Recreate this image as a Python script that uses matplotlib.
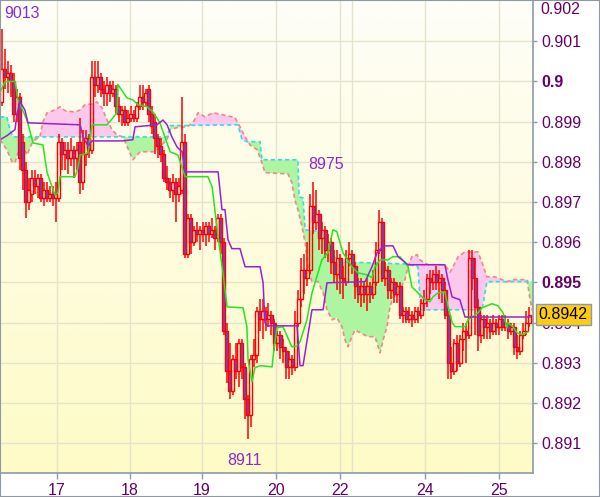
import numpy as np
import matplotlib.pyplot as plt
from matplotlib.patches import Rectangle
from matplotlib.colors import LinearSegmentedColormap
from matplotlib.transforms import blended_transform_factory

plt.rcParams['font.family'] = ['Liberation Sans', 'DejaVu Sans']

# hourly candles, prices in pips (x 0.0001)
opens = [
    8995, 9003, 9001, 9002, 9000, 8992, 8996, 8985, 8978, 8970,
    8972, 8976, 8974, 8976, 8971, 8973, 8971, 8972, 8971, 8971,
    8985, 8982, 8983, 8981, 8983, 8981, 8985, 8975, 8982, 8986,
    8983, 9001, 8999, 9001, 8998, 8997, 8999, 8997, 8998, 8994,
    8992, 8993, 8990, 8991, 8992, 8991, 8994, 8996, 8995, 8998,
    8992, 8990, 8986, 8984, 8982, 8976, 8975, 8973, 8975, 8972,
    8973, 8985, 8957, 8966, 8960, 8963, 8962, 8963, 8962, 8964,
    8962, 8963, 8961, 8966, 8960, 8938, 8928, 8923, 8931, 8928,
    8935, 8929, 8921, 8917, 8931, 8932, 8943, 8941, 8943, 8941,
    8942, 8940, 8935, 8937, 8934, 8933, 8929, 8931, 8929, 8940,
    8946, 8953, 8951, 8953, 8969, 8965, 8967, 8961, 8963, 8958,
    8960, 8955, 8952, 8956, 8951, 8950, 8956, 8957, 8954, 8949,
    8947, 8949, 8947, 8949, 8947, 8950, 8958, 8965, 8951, 8953,
    8948, 8950, 8947, 8949, 8942, 8943, 8941, 8942, 8941, 8943,
    8942, 8945, 8946, 8951, 8950, 8952, 8950, 8951, 8948, 8942,
    8930, 8928, 8935, 8930, 8936, 8938, 8937, 8956, 8951, 8944,
    8937, 8941, 8939, 8940, 8938, 8940, 8939, 8941, 8939, 8940,
    8938, 8939, 8934, 8933, 8937, 8938, 8940]
closes = [
    9003, 9001, 9002, 9000, 8992, 8996, 8981, 8978, 8970, 8973,
    8976, 8974, 8976, 8971, 8973, 8971, 8972, 8971, 8972, 8985,
    8982, 8983, 8981, 8983, 8981, 8983, 8975, 8982, 8986, 8983,
    9001, 8999, 9001, 8998, 8997, 8999, 8997, 8998, 8994, 8992,
    8993, 8990, 8991, 8992, 8991, 8994, 8996, 8995, 8997, 8992,
    8989, 8986, 8984, 8982, 8976, 8975, 8973, 8975, 8972, 8974,
    8985, 8957, 8966, 8960, 8963, 8962, 8963, 8962, 8964, 8962,
    8963, 8961, 8966, 8960, 8938, 8928, 8923, 8931, 8928, 8935,
    8929, 8921, 8917, 8931, 8932, 8943, 8941, 8943, 8941, 8942,
    8940, 8935, 8937, 8934, 8933, 8929, 8931, 8929, 8940, 8946,
    8953, 8951, 8953, 8969, 8965, 8967, 8961, 8963, 8958, 8960,
    8955, 8952, 8956, 8951, 8950, 8956, 8957, 8954, 8949, 8947,
    8949, 8947, 8949, 8947, 8950, 8958, 8965, 8951, 8953, 8948,
    8950, 8947, 8949, 8942, 8943, 8941, 8942, 8941, 8943, 8942,
    8945, 8946, 8951, 8950, 8952, 8950, 8951, 8948, 8942, 8930,
    8928, 8935, 8930, 8936, 8938, 8937, 8956, 8951, 8944, 8937,
    8941, 8939, 8940, 8938, 8940, 8939, 8941, 8939, 8940, 8938,
    8939, 8934, 8933, 8937, 8938, 8940, 8942]
highs = [
    9013, 9008, 9005, 9004, 9002, 8998, 8997, 8987, 8980, 8976,
    8978, 8978, 8977, 8977, 8975, 8975, 8974, 8974, 8975, 8987,
    8986, 8985, 8985, 8986, 8984, 8985, 8991, 8988, 8988, 8987,
    9005, 9005, 9005, 9002, 9000, 9001, 9000, 9000, 8999, 8996,
    8994, 8994, 8993, 8994, 8993, 8995, 8999, 8999, 8998, 8999,
    8994, 8992, 8987, 8986, 8983, 8979, 8976, 8977, 8976, 8976,
    8996, 8987, 8967, 8967, 8964, 8965, 8964, 8965, 8965, 8965,
    8966, 8964, 8967, 8967, 8961, 8940, 8935, 8932, 8935, 8936,
    8936, 8930, 8922, 8932, 8936, 8944, 8946, 8946, 8944, 8945,
    8943, 8941, 8938, 8938, 8936, 8934, 8933, 8932, 8943, 8948,
    8956, 8957, 8960, 8972, 8975, 8973, 8968, 8965, 8964, 8962,
    8961, 8958, 8958, 8957, 8954, 8958, 8960, 8958, 8955, 8951,
    8951, 8950, 8951, 8950, 8953, 8960, 8968, 8966, 8955, 8954,
    8951, 8951, 8950, 8950, 8944, 8944, 8944, 8943, 8944, 8944,
    8946, 8948, 8952, 8953, 8953, 8954, 8953, 8952, 8950, 8943,
    8934, 8936, 8937, 8937, 8940, 8940, 8958, 8958, 8956, 8946,
    8942, 8942, 8942, 8941, 8942, 8941, 8942, 8942, 8942, 8941,
    8940, 8940, 8937, 8938, 8940, 8943, 8944]
lows = [
    8994, 8998, 8997, 8996, 8990, 8990, 8978, 8973, 8966, 8968,
    8970, 8972, 8971, 8970, 8969, 8970, 8970, 8969, 8965, 8970,
    8978, 8978, 8977, 8979, 8976, 8978, 8972, 8973, 8979, 8981,
    8982, 8996, 8997, 8996, 8994, 8994, 8995, 8996, 8992, 8990,
    8989, 8989, 8989, 8990, 8990, 8990, 8993, 8993, 8994, 8990,
    8987, 8982, 8981, 8980, 8975, 8973, 8971, 8970, 8965, 8970,
    8972, 8956, 8956, 8957, 8959, 8960, 8958, 8960, 8959, 8960,
    8961, 8958, 8960, 8957, 8937, 8925, 8921, 8922, 8926, 8924,
    8926, 8916, 8911, 8914, 8929, 8930, 8938, 8936, 8938, 8939,
    8937, 8933, 8933, 8931, 8930, 8926, 8926, 8927, 8928, 8939,
    8944, 8947, 8949, 8952, 8962, 8963, 8958, 8957, 8956, 8955,
    8952, 8950, 8948, 8947, 8946, 8949, 8954, 8952, 8946, 8945,
    8944, 8945, 8943, 8945, 8946, 8949, 8957, 8950, 8949, 8946,
    8946, 8945, 8945, 8941, 8940, 8940, 8940, 8939, 8940, 8940,
    8941, 8943, 8944, 8947, 8948, 8948, 8946, 8945, 8941, 8926,
    8926, 8927, 8928, 8929, 8933, 8930, 8936, 8948, 8937, 8933,
    8935, 8936, 8936, 8936, 8937, 8937, 8937, 8938, 8938, 8936,
    8937, 8932, 8931, 8932, 8936, 8937, 8939]

# ichimoku lines as (bar, pips) vertices
tenkan_x = [-0.5, 1.2, 4.5, 5.5, 8.5, 10.5, 13.8, 15.2, 17.8, 18.8, 19.5, 24.5, 25.5, 26.2, 28.8,
            30.2, 35.2, 38.5, 38.8, 41.8, 43.8, 45.5, 48.5, 50.5, 52.8, 56.2, 58.8, 61.2, 68.8,
            70.2, 72.2, 73.8, 75.2, 80.5, 81.8, 82.2, 83.5, 84.5, 86.2, 90.2, 90.5, 91.8, 93.8,
            96.8, 98.5, 99.5, 101.8, 103.5, 104.5, 106.8, 108.8, 110.5, 111.8, 113.8, 116.8,
            118.8, 121.8, 123.5, 124.5, 126.2, 128.8, 130.5, 132.8, 134.5, 135.5, 136.8, 139.5,
            141.2, 142.8, 143.8, 145.5, 147.8, 148.8, 150.2, 151.2, 154.5, 155.5, 158.8, 160.2,
            163.5, 165.5, 167.2, 168.5, 168.8, 170.5, 171.8, 173.5, 175.5]
tenkan_y = [8997.2, 9000, 9000, 8995.4, 8990.4, 8984.7, 8984.2, 8977.3, 8971.8, 8972.3, 8976.3,
            8976.3, 8978.5, 8981.7, 8982.2, 8989.2, 8989.2, 8992.2, 8999.2, 8995.9, 8995.4,
            8994.2, 8993.7, 8992.4, 8989.7, 8982.5, 8981.7, 8976.3, 8976.3, 8973.8, 8961.3,
            8952.4, 8943.9, 8943.7, 8939.0, 8930.7, 8925.3, 8928.8, 8929.3, 8929.0, 8931.3,
            8938.7, 8939.0, 8934.0, 8934.2, 8935.2, 8940.7, 8947.4, 8949.9, 8955.6, 8957.4,
            8963.1, 8962.6, 8957.4, 8953.9, 8952.4, 8951.9, 8951.2, 8953.9, 8955.6, 8955.6,
            8956.4, 8956.4, 8954.9, 8953.9, 8948.9, 8946.9, 8945.7, 8945.2, 8946.4, 8947.4,
            8947.7, 8944.2, 8940.0, 8939.0, 8939.0, 8940.7, 8942.4, 8943.7, 8944.7, 8944.2,
            8942.4, 8938.7, 8940.0, 8939.0, 8937.5, 8937.0, 8937.7]
kijun_x = [-0.5, 1.8, 4.5, 5.2, 6.2, 7.8, 8.8, 26.2, 27.2, 28.8, 30.2, 40.2, 43.8, 44.5, 51.8,
           53.8, 55.2, 56.8, 58.5, 60.2, 61.2, 72.2, 73.5, 74.5, 75.5, 76.8, 79.5, 81.2, 86.2,
           87.2, 87.8, 88.5, 98.5, 98.8, 99.5, 100.5, 103.5, 107.2, 108.5, 121.2, 123.5, 125.2,
           127.2, 130.5, 132.2, 135.5, 147.8, 148.8, 150.2, 152.8, 154.5, 176.2]
kijun_y = [8985.5, 8986.5, 8988.0, 8992.2, 8994.9, 8992.9, 8989.7, 8989.2, 8986.2, 8984.0,
           8985.2, 8985.2, 8985.5, 8988.7, 8989.2, 8990.4, 8989.2, 8986.2, 8983.7, 8982.5,
           8977.5, 8977.5, 8968.1, 8968.1, 8960.6, 8958.4, 8958.4, 8953.9, 8953.9, 8949.9,
           8940.0, 8939.2, 8939.2, 8936.5, 8929.3, 8929.3, 8943.2, 8943.2, 8949.9, 8950.2,
           8953.9, 8957.4, 8959.1, 8959.1, 8956.4, 8954.4, 8954.4, 8950.7, 8946.4, 8945.7,
           8941.4, 8941.4]
spana_x = [-0.5, 1.8, 2.8, 3.8, 55.2, 56.2, 78.8, 80.2, 81.8, 86.2, 86.8, 98.8, 99.2, 100.5,
           101.2, 106.8, 108.2, 111.2, 113.5, 134.5, 138.8, 139.8, 160.2, 161.8, 177.2]
spana_y = [8991.2, 8991.2, 8988.0, 8986.2, 8986.2, 8989.0, 8989.2, 8985.5, 8985.0, 8985.0,
           8980.5, 8980.5, 8971.3, 8971.0, 8963.1, 8962.6, 8961.6, 8956.1, 8955.1, 8954.6,
           8953.9, 8943.2, 8943.2, 8950.2, 8950.2]
spanb_x = [-0.5, 1.8, 3.5, 4.5, 5.5, 7.2, 8.5, 10.2, 11.2, 12.8, 13.8, 15.2, 17.8, 19.5, 21.2,
           24.5, 26.2, 27.8, 30.2, 31.8, 33.5, 35.2, 36.8, 38.5, 40.5, 41.2, 42.8, 43.8, 46.2,
           50.5, 51.8, 55.2, 56.2, 58.5, 61.8, 63.8, 65.5, 67.8, 70.5, 73.8, 77.8, 79.5, 81.2,
           82.8, 85.2, 86.8, 87.8, 95.5, 96.8, 97.8, 98.8, 100.2, 101.2, 102.2, 103.5, 105.5,
           107.2, 108.5, 110.2, 111.8, 113.5, 114.5, 115.5, 116.8, 117.8, 119.5, 122.2, 124.5,
           126.2, 127.2, 128.5, 129.5, 130.5, 132.2, 134.5, 135.5, 136.8, 138.5, 139.5, 142.2,
           147.8, 149.5, 151.2, 152.2, 154.5, 158.8, 160.2, 161.8, 164.5, 168.5, 170.5, 175.2,
           176.2, 177.2]
spanb_y = [8985.5, 8983.0, 8980.0, 8979.8, 8982.2, 8983.7, 8981.7, 8984.7, 8985.5, 8986.2,
           8989.9, 8992.2, 8992.9, 8993.7, 8992.7, 8992.4, 8992.9, 8994.2, 8994.4, 8994.9,
           8993.4, 8990.4, 8988.0, 8986.7, 8986.2, 8985.0, 8982.2, 8980.5, 8982.5, 8982.5,
           8983.0, 8985.5, 8988.0, 8988.5, 8988.7, 8989.7, 8992.2, 8991.2, 8992.2, 8991.7,
           8991.0, 8988.7, 8986.2, 8984.2, 8983.0, 8979.8, 8977.3, 8977.0, 8974.8, 8970.5,
           8968.1, 8963.8, 8959.9, 8953.9, 8950.2, 8950.2, 8947.4, 8943.2, 8940.7, 8941.2,
           8939.0, 8935.7, 8934.0, 8936.5, 8938.2, 8937.5, 8936.5, 8936.5, 8932.5, 8935.7,
           8939.0, 8943.9, 8946.4, 8947.4, 8950.7, 8953.9, 8956.4, 8956.9, 8955.6, 8954.4,
           8954.4, 8952.5, 8954.9, 8956.4, 8957.6, 8957.6, 8954.9, 8951.4, 8951.4, 8950.2,
           8950.7, 8950.7, 8945.7, 8942.4]

# day separators (bar positions) and their labels
day_ticks = [18.5, 42.8, 66.8, 91.5, 112.8, 141.2, 165.8]
day_labels = ['17', '18', '19', '20', '22', '24', '25']
extra_line = [116.8]
price_ticks = [0.891, 0.892, 0.893, 0.894, 0.895, 0.896, 0.897, 0.898, 0.899, 0.900, 0.901]
price_labels = ['0.891', '0.892', '0.893', '0.894', '0.895', '0.896', '0.897', '0.898',
                '0.899', '0.9', '0.901']
last_price = '0.8942'

o = np.array(opens) / 1e4
c = np.array(closes) / 1e4
h = np.array(highs) / 1e4
l = np.array(lows) / 1e4
idx = np.arange(len(o))

axis_c = '#8c9aa6'
lab_c = '#660066'
note_c = '#8a2bd0'
grid_c = '#e4e4cc'
fs = 11.5

fig = plt.figure(figsize=(6, 4.97), dpi=100)
ax = fig.add_axes([1 / 600, 24 / 497, 532 / 600, 472 / 497])
x0, x1 = -0.17, 177.17
y0, y1 = 0.89026, 0.90200
ax.set_xlim(x0, x1)
ax.set_ylim(y0, y1)

# background gradient, white to light yellow
bg = LinearSegmentedColormap.from_list('bg', ['#fefef8', '#fefbc6'])
ax.imshow(np.linspace(0, 1, 256).reshape(-1, 1), cmap=bg, extent=[x0, x1, y0, y1],
          aspect='auto', origin='upper', zorder=0)

for yv in price_ticks:
    ax.axhline(yv, color=grid_c, lw=1, zorder=1)
for xv in day_ticks + extra_line:
    ax.axvline(xv, color=grid_c, lw=1, zorder=1)

# cloud
xg = np.union1d(spana_x, spanb_x)
sa = np.interp(xg, spana_x, spana_y) / 1e4
sb = np.interp(xg, spanb_x, spanb_y) / 1e4
ax.fill_between(xg, sa, sb, where=sa >= sb, interpolate=True, color='#aef5a2', lw=0, zorder=2)
ax.fill_between(xg, sa, sb, where=sa < sb, interpolate=True, color='#fcc8ec', lw=0, zorder=2)
ax.plot(spanb_x, np.array(spanb_y) / 1e4, color='#f08888', lw=1.2, ls=(0, (2.5, 1.8)), zorder=3)
ax.plot(spana_x, np.array(spana_y) / 1e4, color='#33dde8', lw=1.2, ls=(0, (2.5, 1.8)), zorder=3)

# candles
top = np.maximum(o, c)
bot = np.minimum(o, c)
ax.vlines(idx, top, h, color='#ff0000', lw=1.1, zorder=4)
ax.vlines(idx, l, bot, color='#ff0000', lw=1.1, zorder=4)
faces = ['none' if cc >= oo else '#7048c0' for oo, cc in zip(o, c)]
ax.bar(idx, np.maximum(top - bot, 0.000005), bottom=bot, width=0.72, color=faces,
       edgecolor='#ff0000', linewidth=1.0, zorder=4)

ax.plot(np.array(tenkan_x), np.array(tenkan_y) / 1e4, color='#22e622', lw=1.1, zorder=5)
ax.plot(np.array(kijun_x), np.array(kijun_y) / 1e4, color='#9a22cc', lw=1.1, zorder=5)

# swing labels
ax.annotate('9013', xy=(0, h[0]), xytext=(2, 6), textcoords='offset points',
            ha='left', va='bottom', color=note_c, fontsize=fs)
ax.annotate('8975', xy=(104, h[104]), xytext=(-4, 7), textcoords='offset points',
            ha='left', va='bottom', color=note_c, fontsize=fs)
ax.annotate('8911', xy=(82, l[82]), xytext=(-2, -10), textcoords='offset points',
            ha='center', va='top', color=note_c, fontsize=fs)

# axes styling
for s in ['left', 'top']:
    ax.spines[s].set_visible(False)
for s in ['right', 'bottom']:
    ax.spines[s].set_color(axis_c)
    ax.spines[s].set_linewidth(1.2)

ax.yaxis.tick_right()
ax.set_yticks(price_ticks)
ax.set_yticklabels(price_labels)
ax.tick_params(axis='y', length=3, width=1, color=axis_c, labelcolor=lab_c, labelsize=fs, pad=3)
for t in ax.get_yticklabels():
    if t.get_text() in ('0.9', '0.895'):
        t.set_fontweight('bold')
ax.text(1.014, 0.997, '0.902', transform=ax.transAxes, ha='left', va='top',
        color=lab_c, fontsize=fs)

ax.set_xticks(day_ticks)
ax.set_xticklabels(day_labels)
ax.tick_params(axis='x', length=4, width=1, color=axis_c, labelcolor=lab_c, labelsize=fs, pad=3)

# last price box, drawn over the 0.894 tick label as in the original
tr = blended_transform_factory(ax.transAxes, ax.transData)
ax.text(1.011, float(last_price), last_price, transform=tr, ha='left', va='center',
        fontsize=fs, color='black', zorder=10, clip_on=False,
        bbox=dict(boxstyle='square,pad=0.18', fc='#ffcc11', ec=axis_c, lw=1))

# outer frame
fig.patches.append(Rectangle((0, 0), 1, 1, transform=fig.transFigure, fill=False,
                             ec=axis_c, lw=1.5))

fig.savefig('out.png', dpi=100)
